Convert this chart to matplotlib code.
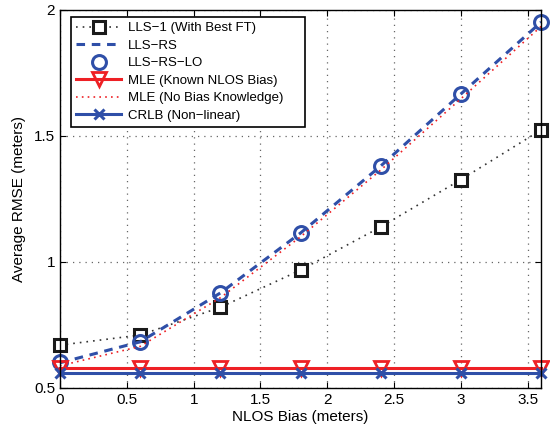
import numpy as np
import matplotlib.pyplot as plt

plt.rcParams.update({
    "font.family": "Liberation Sans",
    "font.size": 10,
    "xtick.direction": "in",
    "ytick.direction": "in",
})

# NLOS bias values (meters)
bias = [0, 0.6, 1.2, 1.8, 2.4, 3.0, 3.6]

# average RMSE (meters)
lls1 = [0.67, 0.71, 0.82, 0.968, 1.139, 1.327, 1.524]
lls_rs = [0.60, 0.683, 0.877, 1.115, 1.381, 1.667, 1.952]
lls_rs_lo = [0.603, 0.683, 0.877, 1.115, 1.381, 1.667, 1.952]
mle_known = [0.578, 0.578, 0.578, 0.578, 0.578, 0.578, 0.578]
mle_nobias = [0.588, 0.665, 0.858, 1.10, 1.365, 1.648, 1.935]
crlb = [0.56, 0.56, 0.56, 0.56, 0.56, 0.56, 0.56]

blue = "#2f4fa8"
red = "#ee2025"

fig = plt.figure(figsize=(5.5, 4.33), dpi=100)
ax = fig.add_axes([0.109, 0.104, 0.875, 0.873])

ax.plot(bias, lls1, ls=(0, (1, 3)), color="#333333", lw=1.2, marker="s", ms=8,
        mfc="white", mec="#1a1a1a", mew=2.2, clip_on=False,
        label="LLS\u22121 (With Best FT)")
ax.plot(bias, lls_rs, ls="--", color=blue, lw=2.2, dashes=(2.8, 2.2),
        clip_on=False, label="LLS\u2212RS")
ax.plot(bias, lls_rs_lo, ls="none", marker="o", ms=10, mfc="none", mec=blue,
        mew=2.2, clip_on=False, label="LLS\u2212RS\u2212LO")
ax.plot(bias, mle_known, ls="-", color=red, lw=2.2, marker="v", ms=10,
        mfc="none", mec=red, mew=2, clip_on=False,
        label="MLE (Known NLOS Bias)")
ax.plot(bias, mle_nobias, ls=(0, (1, 2.5)), color=red, lw=1.2,
        label="MLE (No Bias Knowledge)")
ax.plot(bias, crlb, ls="-", color=blue, lw=2.2, marker="x", ms=7,
        mec=blue, mew=2.2, clip_on=False, label="CRLB (Non\u2212linear)")

ax.set_xlim(0, 3.6)
ax.set_ylim(0.5, 2)
ax.set_xticks([0, 0.5, 1, 1.5, 2, 2.5, 3, 3.5])
ax.set_xticklabels(["0", "0.5", "1", "1.5", "2", "2.5", "3", "3.5"])
ax.set_yticks([0.5, 1, 1.5, 2])
ax.set_yticklabels(["0.5", "1", "1.5", "2"])
ax.tick_params(labelsize=11, top=True, right=True, length=4)
ax.grid(True, ls=(0, (1, 4)), color="#666666", lw=0.9)
for s in ax.spines.values():
    s.set_linewidth(1.0)

ax.set_xlabel("NLOS Bias (meters)", fontsize=11, labelpad=2)
ax.set_ylabel("Average RMSE (meters)", fontsize=11, labelpad=6)

leg = ax.legend(loc="upper left", bbox_to_anchor=(0.023, 0.0, 0.486, 0.982),
                mode="expand", borderaxespad=0, fontsize=9.5, fancybox=False,
                edgecolor="black", framealpha=1, handlelength=3.4,
                labelspacing=0.4, borderpad=0.4, handletextpad=0.5)
leg.get_frame().set_linewidth(1.2)

fig.savefig("out.png", dpi=100)
